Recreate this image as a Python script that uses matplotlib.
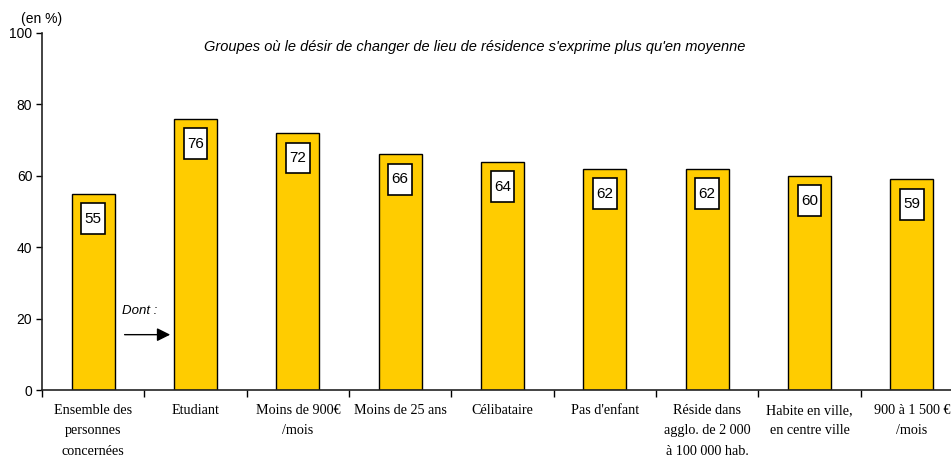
import matplotlib.pyplot as plt
from matplotlib.patches import Rectangle
import numpy as np

# categories and values
categories = ["Ensemble des\npersonnes\nconcernées", "Etudiant", "Moins de 900€\n/mois",
              "Moins de 25 ans", "Célibataire", "Pas d'enfant",
              "Réside dans\nagglo. de 2 000\nà 100 000 hab.",
              "Habite en ville,\nen centre ville", "900 à 1 500 €\n/mois"]
values = [55, 76, 72, 66, 64, 62, 62, 60, 59]
yticks = [0, 20, 40, 60, 80, 100]

fig = plt.figure(figsize=(9.51, 4.59), dpi=100)
ax = fig.add_axes([42 / 951, 69 / 459, 921 / 951, 357 / 459])

x = np.arange(len(categories))
ax.bar(x, values, width=0.42, color="#FFCC00", edgecolor="black", linewidth=1.0, zorder=2)

# value labels in tall white boxes, a bit below the bar top
box_w, box_h, offset = 0.23, 8.6, 7.0
for xi, v in zip(x, values):
    ax.add_patch(Rectangle((xi - box_w / 2, v - offset - box_h / 2), box_w, box_h,
                           fc="white", ec="black", lw=1.2, zorder=3))
    ax.text(xi, v - offset, str(v), ha="center", va="center", fontsize=11,
            family="Liberation Sans", zorder=4)

ax.set_xlim(-0.5, len(categories) - 0.5)
ax.set_ylim(0, 100)
ax.set_yticks(yticks)
ax.set_yticklabels([str(t) for t in yticks], family="Liberation Sans", fontsize=10)

# ticks between categories, labels at centres
ax.set_xticks(np.arange(-0.5, len(categories), 1.0))
ax.set_xticklabels([])
ax.set_xticks(x, minor=True)
ax.set_xticklabels(categories, minor=True, family="Liberation Serif", fontsize=10.2,
                   linespacing=1.75, va="top")
ax.tick_params(axis="x", which="minor", length=0, pad=10)
ax.tick_params(axis="x", which="major", length=5, width=1, direction="out")
ax.tick_params(axis="y", length=4, width=1, direction="out", pad=3)

for s in ["top", "right"]:
    ax.spines[s].set_visible(False)
for s in ["left", "bottom"]:
    ax.spines[s].set_linewidth(1.2)
    ax.spines[s].set_color("#222222")

fig.text(475 / 951, 1 - 47 / 459,
         "Groupes où le désir de changer de lieu de résidence s'exprime plus qu'en moyenne",
         ha="center", va="center", fontsize=10.5, style="italic", family="Liberation Sans")
fig.text(21 / 951, 1 - 19 / 459, "(en %)", ha="left", va="center", fontsize=10,
         family="Liberation Sans")

# "Dont :" annotation with arrow
ax.text(0.28, 22, "Dont :", fontsize=9.5, style="italic", family="Liberation Sans",
        ha="left", va="center")
ax.annotate("", xy=(0.78, 15.5), xytext=(0.28, 15.5),
            arrowprops=dict(arrowstyle="-|>", color="black", lw=1.0, mutation_scale=20))

fig.savefig("out.png", dpi=100)
